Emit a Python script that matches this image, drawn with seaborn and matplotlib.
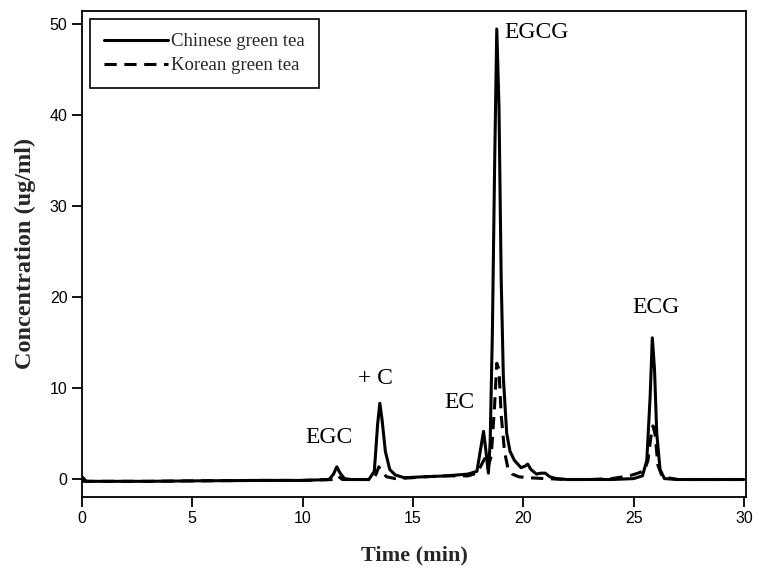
import matplotlib
matplotlib.use('Agg')
import matplotlib.pyplot as plt
import seaborn as sns
import pandas as pd

# 中国绿茶 色谱数据 (时间 min, 浓度 ug/ml)
cn_time = [0, 0.2, 3, 5, 8, 10, 11.2, 11.4, 11.55, 11.7, 11.9, 12.2, 13.0, 13.25,
           13.4, 13.5, 13.6, 13.75, 13.95, 14.2, 14.6, 15.5, 16.5, 17.5, 17.9, 18.05,
           18.2, 18.3, 18.42, 18.5, 18.6, 18.7, 18.8, 18.9, 19.0, 19.1, 19.25, 19.4,
           19.6, 19.9, 20.1, 20.2, 20.35, 20.6, 20.8, 21.0, 21.2, 21.5, 22, 23, 24, 25,
           25.4, 25.6, 25.75, 25.85, 25.95, 26.05, 26.2, 26.4, 27, 28, 30]
cn_conc = [0.2, -0.3, -0.3, -0.25, -0.2, -0.2, -0.1, 0.5, 1.3, 0.6, 0.0, -0.1, -0.1, 0.8,
           6.0, 8.3, 6.5, 3.0, 1.0, 0.4, 0.1, 0.2, 0.3, 0.5, 0.8, 3.0,
           5.2, 3.2, 0.6, 4.0, 16.0, 34.0, 49.5, 41.0, 22.0, 11.0, 5.0, 3.0,
           2.0, 1.2, 1.4, 1.6, 1.0, 0.5, 0.6, 0.6, 0.2, 0.0, -0.1, -0.1, -0.1, 0.0,
           0.3, 2.0, 9.0, 15.5, 12.0, 5.0, 1.0, 0.0, -0.1, -0.1, -0.1]

# 韩国绿茶
kr_time = [0, 3, 5, 8, 10, 11.4, 11.6, 11.8, 13.2, 13.35, 13.45, 13.6, 13.8, 14.2, 15,
           15.5, 16.5, 17.5, 17.9, 18.1, 18.25, 18.4, 18.55, 18.7, 18.8, 18.9, 19.0,
           19.15, 19.3, 19.5, 19.8, 20.2, 21, 22, 23, 24, 24.8, 25.2, 25.5, 25.65,
           25.78, 25.88, 25.98, 26.1, 26.3, 27, 28, 30]
kr_conc = [-0.3, -0.3, -0.25, -0.2, -0.2, -0.1, 0.3, -0.1, -0.1, 0.6, 1.3, 0.8, 0.2, 0.0,
           0.1, 0.2, 0.3, 0.3, 0.6, 1.5, 2.2, 1.2, 2.5, 8.0, 12.7, 12.0, 7.0,
           3.0, 1.2, 0.5, 0.2, 0.1, 0.0, -0.1, -0.1, 0.0, 0.3, 0.6, 0.9, 2.0,
           4.5, 5.8, 4.8, 1.5, 0.2, -0.1, -0.1, -0.1]

peak_names = ['EGC', '+ C', 'EC', 'EGCG', 'ECG']
peak_x = [11.2, 13.3, 17.1, 20.6, 26.0]
peak_y = [4.5, 11.0, 8.4, 49.1, 18.8]

df_cn = pd.DataFrame({'t': cn_time, 'c': cn_conc})
df_kr = pd.DataFrame({'t': kr_time, 'c': kr_conc})

sns.set_style('ticks')
plt.rcParams['font.family'] = ['Liberation Serif', 'DejaVu Serif']

fig = plt.figure(figsize=(7.59, 5.71), dpi=100)
ax = fig.add_axes([0.108, 0.130, 0.875, 0.851])

sns.lineplot(data=df_cn, x='t', y='c', ax=ax, color='black', linewidth=2.2,
             label='Chinese green tea', sort=False)
sns.lineplot(data=df_kr, x='t', y='c', ax=ax, color='black', linewidth=2.2,
             linestyle=(0, (4, 2.5)), label='Korean green tea', sort=False)

for name, px, py in zip(peak_names, peak_x, peak_y):
    ax.text(px, py, name, ha='center', va='center', fontsize=17, color='black')

ax.set_xlim(0, 30.1)
ax.set_ylim(-2, 51.5)
ax.set_xticks(range(0, 31, 5))
ax.set_yticks(range(0, 51, 10))
ax.tick_params(axis='both', direction='out', length=7, width=1.3,
               labelsize=11.5, colors='black')
for lab in ax.get_xticklabels() + ax.get_yticklabels():
    lab.set_family('Liberation Sans')
for sp in ax.spines.values():
    sp.set_visible(True)
    sp.set_color('black')
    sp.set_linewidth(1.3)

ax.set_xlabel('Time (min)', fontsize=16, fontweight='bold', labelpad=14)
ax.set_ylabel('Concentration (ug/ml)', fontsize=17.5, fontweight='bold', labelpad=10)

leg = ax.legend(loc='upper left', fontsize=13.5, handlelength=3.4, handletextpad=0.15,
                borderpad=0.75, labelspacing=0.35, fancybox=False, framealpha=1,
                edgecolor='black', borderaxespad=0.45)
leg.get_frame().set_linewidth(1.2)

fig.savefig('out.png', dpi=100)
